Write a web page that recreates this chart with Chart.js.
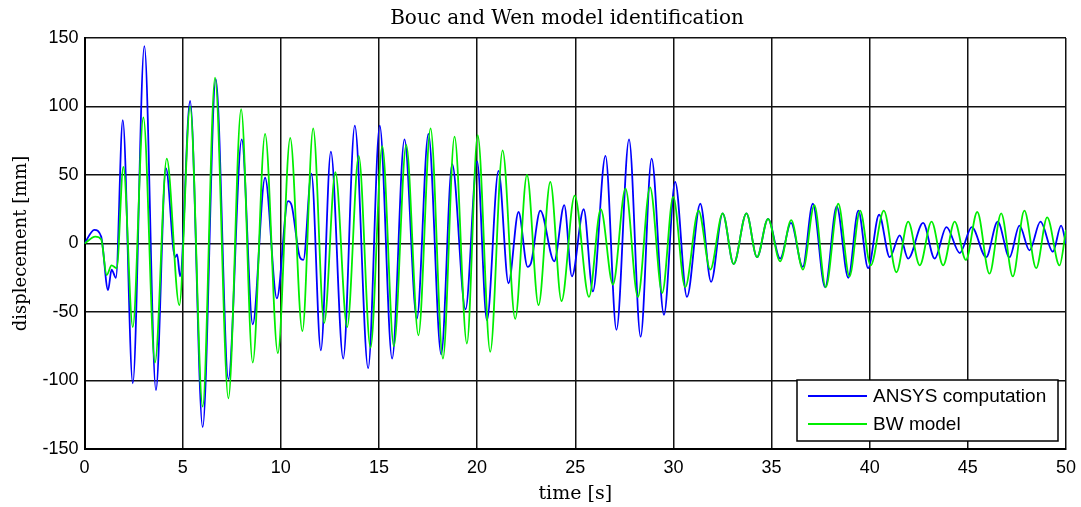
<!DOCTYPE html>
<html>
<head>
<meta charset="utf-8">
<script src="https://cdn.jsdelivr.net/npm/chart.js@4"></script>
<style>
  html, body { margin: 0; padding: 0; background: #fff; }
  #wrap { width: 1081px; height: 507px; position: relative; }
</style>
</head>
<body>
<div id="wrap"><canvas id="bwChart"></canvas></div>
<script>
// ANSYS computation (blue) - peaks / troughs
const ansysTime = [
  0, 0.5, 0.85, 1.2, 1.38, 1.6, 1.95, 2.46, 3.05, 3.64,
  4.15, 4.61, 4.72, 4.87, 5.38, 6.02, 6.69, 7.33, 8.01, 8.57,
  9.2, 9.8, 10.37, 10.55, 10.97, 11.15, 11.56, 12.04, 12.55, 13.18,
  13.77, 14.45, 15.04, 15.67, 16.3, 16.93, 17.52, 18.17, 18.73, 19.41,
  20.0, 20.5, 21.09, 21.6, 22.11, 22.57, 22.75, 23.22, 23.93, 24.44,
  24.83, 25.43, 25.9, 26.54, 27.1, 27.74, 28.33, 28.89, 29.52, 30.09,
  30.69, 31.37, 31.92, 32.51, 33.07, 33.72, 34.26, 34.82, 35.44, 35.99,
  36.59, 37.1, 37.73, 38.32, 38.91, 39.42, 39.92, 40.48, 41.02, 41.53,
  41.96, 42.72, 43.31, 43.91, 44.59, 45.2, 45.93, 46.52, 47.12, 47.63,
  48.14, 48.7, 49.33, 49.75, 50
];
const ansysDisp = [
  0, 10, 5, -34, -19, -25, 90, -102, 144, -107,
  55, -10, -8, -24, 104, -134, 120, -99, 76, -59,
  48, -40, 31, 28, -10, -12, 51, -78, 67, -84,
  86, -91, 86, -84, 76, -55, 80, -81, 58, -48,
  60, -56, 53, -29, 23, -17, -14, 24, -13, 28,
  -24, 25, -35, 64, -63, 76, -68, 62, -52, 45,
  -39, 29, -28, 22, -15, 22, -10, 18, -11, 15,
  -17, 29, -32, 27, -25, 24, -18, 21, -10, 6,
  -11, 15, -11, 12, -7, 12, -10, 16, -10, 13,
  -5, 16, -6, 13, 0
];

// BW model (green)
const bwTime = [
  0, 0.55, 0.85, 1.13, 1.38, 1.64, 1.98, 2.46, 3.0, 3.59,
  4.19, 4.83, 5.38, 6.02, 6.65, 7.33, 7.98, 8.57, 9.2, 9.85,
  10.48, 11.1, 11.65, 12.21, 12.78, 13.38, 13.97, 14.57, 15.17, 15.76,
  16.39, 17.01, 17.63, 18.26, 18.85, 19.48, 20.03, 20.67, 21.3, 21.94,
  22.54, 23.13, 23.73, 24.3, 24.97, 25.7, 26.3, 26.92, 27.56, 28.19,
  28.81, 29.43, 29.99, 30.6, 31.28, 31.88, 32.51, 33.07, 33.72, 34.26,
  34.82, 35.44, 36.0, 36.6, 37.18, 37.76, 38.4, 38.97, 39.51, 40.05,
  40.72, 41.36, 41.96, 42.55, 43.15, 43.74, 44.33, 44.9, 45.48, 46.1,
  46.7, 47.29, 47.88, 48.48, 49.04, 49.67, 50
];
const bwDisp = [
  0, 5, 3, -23, -16, -18, 56, -61, 92, -87,
  62, -45, 100, -119, 121, -113, 98, -87, 80, -80,
  77, -64, 84, -58, 52, -61, 64, -76, 71, -75,
  72, -67, 84, -84, 78, -73, 79, -79, 68, -55,
  50, -45, 45, -42, 35, -39, 25, -30, 40, -39,
  41, -36, 34, -32, 24, -19, 22, -15, 22, -10,
  18, -13, 17, -19, 28, -32, 29, -24, 24, -16,
  24, -21, 16, -16, 16, -16, 16, -12, 23, -22,
  22, -24, 24, -18, 19, -16, 10
];

const seriesNames = ["ANSYS computation", "BW model"];
const seriesColors = ["#0000ff", "#00ee00"];

const toPoints = (xs, ys) => xs.map((x, i) => ({ x: x, y: ys[i] }));

// title + legend box drawn like the matlab figure
const figurePlugin = {
  id: 'figureDecor',
  afterDraw(chart) {
    const { ctx } = chart;
    ctx.save();
    ctx.fillStyle = '#000';
    ctx.textAlign = 'center';
    ctx.textBaseline = 'middle';
    ctx.font = '20px "DejaVu Serif"';
    ctx.fillText('Bouc and Wen model identification', 567, 19);

    // legend
    const bx = 797, by = 380, bw = 261, bh = 61;
    ctx.fillStyle = '#fff';
    ctx.fillRect(bx, by, bw, bh);
    ctx.strokeStyle = '#000';
    ctx.lineWidth = 1.5;
    ctx.strokeRect(bx, by, bw, bh);
    ctx.font = '19px "Liberation Sans"';
    ctx.textAlign = 'left';
    seriesNames.forEach((name, i) => {
      const y = by + 16 + i * 28;
      ctx.strokeStyle = seriesColors[i];
      ctx.lineWidth = 1.8;
      ctx.beginPath();
      ctx.moveTo(808, y);
      ctx.lineTo(867, y);
      ctx.stroke();
      ctx.fillStyle = '#000';
      ctx.fillText(name, 873, y + 1);
    });
    ctx.restore();
  }
};

new Chart(document.getElementById('bwChart'), {
  type: 'line',
  data: {
    datasets: [
      {
        label: seriesNames[0],
        data: toPoints(ansysTime, ansysDisp),
        borderColor: seriesColors[0],
        borderWidth: 1.8,
        pointRadius: 0,
        cubicInterpolationMode: 'monotone',
        order: 1
      },
      {
        label: seriesNames[1],
        data: toPoints(bwTime, bwDisp),
        borderColor: seriesColors[1],
        borderWidth: 1.8,
        pointRadius: 0,
        cubicInterpolationMode: 'monotone',
        order: 0
      }
    ]
  },
  options: {
    responsive: true,
    maintainAspectRatio: false,
    animation: false,
    layout: { padding: { top: 38, right: 15, bottom: 0, left: 0 } },
    plugins: {
      legend: { display: false },
      title: { display: false },
      tooltip: { enabled: false }
    },
    scales: {
      x: {
        type: 'linear',
        min: 0,
        max: 50,
        ticks: {
          stepSize: 5,
          color: '#000',
          padding: 8,
          font: { family: 'Liberation Sans', size: 18 }
        },
        grid: { color: '#111', lineWidth: 1.5, drawTicks: false },
        border: { color: '#000', width: 2 },
        title: {
          display: true,
          text: 'time [s]',
          color: '#000',
          font: { family: 'DejaVu Serif', size: 19 },
          padding: { top: 0, bottom: 2 }
        },
        afterFit: (s) => { s.height = 58; s.paddingRight = 0; s.paddingLeft = 0; }
      },
      y: {
        min: -150,
        max: 150,
        ticks: {
          stepSize: 50,
          color: '#000',
          padding: 6,
          font: { family: 'Liberation Sans', size: 18 }
        },
        grid: { color: '#111', lineWidth: 1.5, drawTicks: false },
        border: { color: '#000', width: 2 },
        title: {
          display: true,
          text: 'displecement [mm]',
          color: '#000',
          font: { family: 'DejaVu Serif', size: 18 },
          padding: { top: 11, bottom: 0 }
        },
        afterFit: (s) => { s.width = 84.5; s.paddingTop = 0; s.paddingBottom = 0; }
      }
    }
  },
  plugins: [figurePlugin]
});
</script>
</body>
</html>
